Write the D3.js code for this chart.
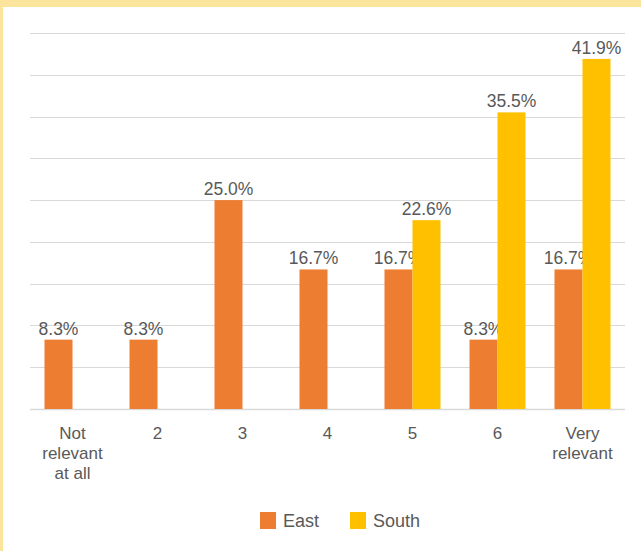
<!DOCTYPE html>
<html><head><meta charset="utf-8">
<script src="https://cdn.jsdelivr.net/npm/d3@7"></script>
<style>html,body{margin:0;padding:0;background:#fff;}svg{display:block;}</style>
</head><body>
<script>
const categories = [["Not","relevant","at all"],["2"],["3"],["4"],["5"],["6"],["Very","relevant"]];
const seriesNames = ["East","South"];
const east = [8.3, 8.3, 25.0, 16.7, 16.7, 8.3, 16.7];
const south = [null, null, null, null, 22.6, 35.5, 41.9];
const yTicks = [0,5,10,15,20,25,30,35,40,45];
const colors = ["#ED7D31","#FFC000"];

(function(){
const W = 641, H = 551;
const FONT = "'Liberation Sans', Arial, sans-serif";
const svg = d3.select("body").append("svg").attr("width", W).attr("height", H);
svg.append("rect").attr("width", W).attr("height", H).attr("fill", "#FBE59C");
svg.append("rect").attr("x", 3).attr("y", 7).attr("width", W-3).attr("height", H-7).attr("fill", "#fff");

const pl = 30, pr = 625, pt = 33, pb = 409;
const x = d3.scaleBand().domain(d3.range(categories.length)).range([pl, pr]);
const y = d3.scaleLinear().domain([0,45]).range([pb, pt]);
const barW = 28;

svg.append("g").selectAll("line").data(yTicks).join("line")
  .attr("x1", pl).attr("x2", pr)
  .attr("y1", d => Math.round(y(d)) + 0.5).attr("y2", d => Math.round(y(d)) + 0.5)
  .attr("stroke", "#D9D9D9").attr("stroke-width", d => d === 0 ? 1.5 : 1.2);

const series = [east, south];
series.forEach((vals, si) => {
  const g = svg.append("g");
  const data = vals.map((v,i)=>({v,i})).filter(d => d.v != null);
  g.selectAll("rect").data(data).join("rect")
    .attr("x", d => x(d.i) + x.bandwidth()/2 - barW + si*barW)
    .attr("width", barW)
    .attr("y", d => y(d.v))
    .attr("height", d => pb - y(d.v))
    .attr("fill", colors[si]);
  g.selectAll("text").data(data).join("text")
    .attr("x", d => x(d.i) + x.bandwidth()/2 - barW/2 + si*barW)
    .attr("y", d => y(d.v) - 5)
    .attr("text-anchor", "middle")
    .attr("font-family", FONT)
    .attr("font-size", 17.5)
    .attr("fill", "#595959")
    .text(d => d.v.toFixed(1) + "%");
});

const xa = svg.append("g");
categories.forEach((lines, i) => {
  const t = xa.append("text")
    .attr("x", x(i) + x.bandwidth()/2)
    .attr("y", 439)
    .attr("text-anchor", "middle")
    .attr("font-family", FONT)
    .attr("font-size", 17)
    .attr("fill", "#595959");
  lines.forEach((l, k) => t.append("tspan").attr("x", x(i) + x.bandwidth()/2).attr("dy", k ? 20 : 0).text(l));
});

const leg = svg.append("g");
const legX = [260, 350];
seriesNames.forEach((n, i) => {
  leg.append("rect").attr("x", legX[i]).attr("y", 512).attr("width", 16).attr("height", 17).attr("fill", colors[i]);
  leg.append("text").attr("x", legX[i] + 23).attr("y", 527)
    .attr("font-family", FONT)
    .attr("font-size", 18).attr("fill", "#595959").text(n);
});
})();
</script>
</body></html>
